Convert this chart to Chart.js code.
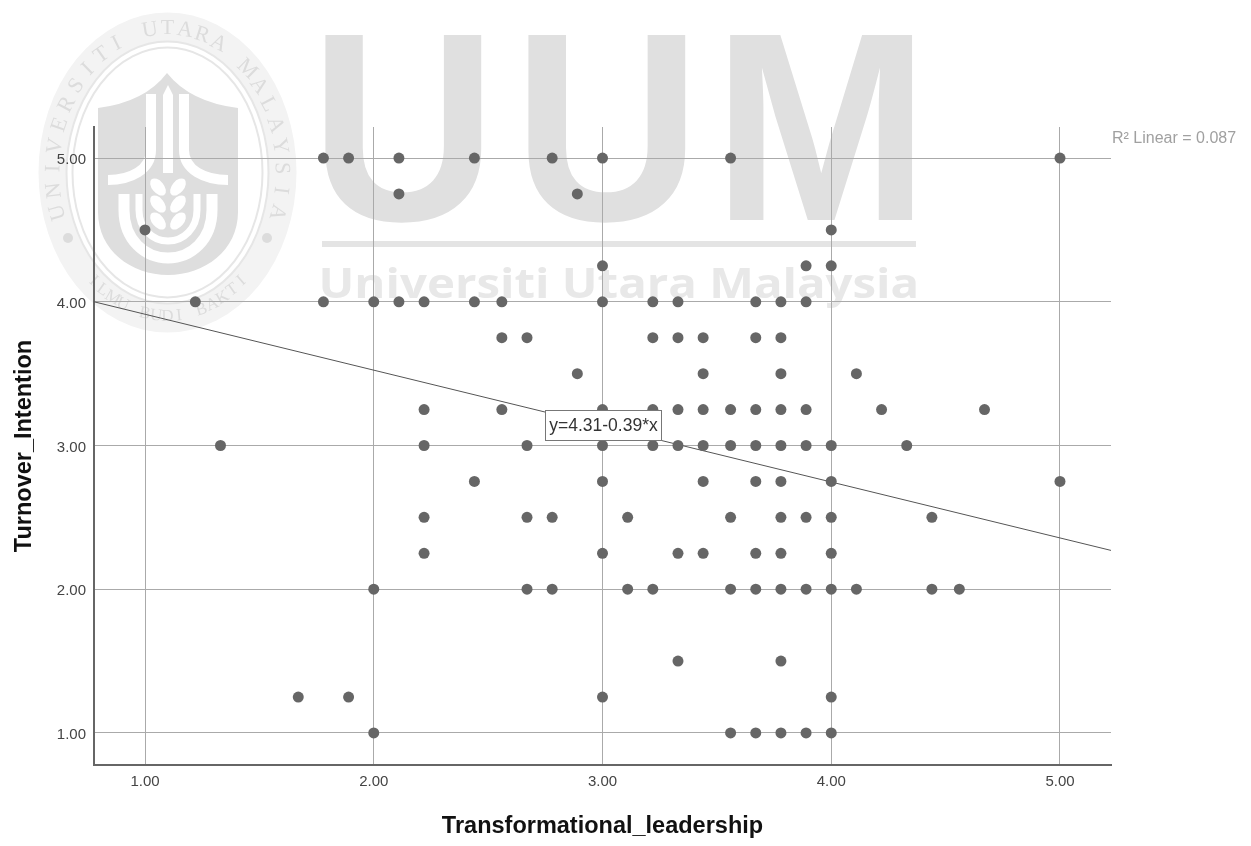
<!DOCTYPE html>
<html>
<head>
<meta charset="utf-8">
<title>Turnover_Intention vs Transformational_leadership</title>
<script src="https://cdn.jsdelivr.net/npm/chart.js@4"></script>
<style>
html, body { margin: 0; padding: 0; background: #fff; }
canvas { display: block; }
</style>
</head>
<body>
<canvas id="scatterChart" width="1251" height="846"></canvas>
<script>
const xTitle = "Transformational_leadership";
const yTitle = "Turnover_Intention";
const xTicks = [1, 2, 3, 4, 5];
const yTicks = [1, 2, 3, 4, 5];
const fitLabel = "y=4.31-0.39*x";
const r2Label = "R² Linear = 0.087";

// y value of each row of dots, and the x values found on that row
const turnoverLevels = [5, 4.75, 4.5, 4.25, 4, 3.75, 3.5, 3.25, 3, 2.75, 2.5, 2.25, 2, 1.5, 1.25, 1];
const leadershipByLevel = [
	[1.78, 1.89, 2.11, 2.44, 2.78, 3, 3.56, 5],
	[2.11, 2.89],
	[1, 4],
	[3, 3.89, 4],
	[1.22, 1.78, 2, 2.11, 2.22, 2.44, 2.56, 3, 3.22, 3.33, 3.67, 3.78, 3.89],
	[2.56, 2.67, 3.22, 3.33, 3.44, 3.67, 3.78],
	[2.89, 3.44, 3.78, 4.11],
	[2.22, 2.56, 3, 3.22, 3.33, 3.44, 3.56, 3.67, 3.78, 3.89, 4.22, 4.67],
	[1.33, 2.22, 2.67, 3, 3.22, 3.33, 3.44, 3.56, 3.67, 3.78, 3.89, 4, 4.33],
	[2.44, 3, 3.44, 3.67, 3.78, 4, 5],
	[2.22, 2.67, 2.78, 3.11, 3.56, 3.78, 3.89, 4, 4.44],
	[2.22, 3, 3.33, 3.44, 3.67, 3.78, 4],
	[2, 2.67, 2.78, 3.11, 3.22, 3.56, 3.67, 3.78, 3.89, 4, 4.11, 4.44, 4.56],
	[3.33, 3.78],
	[1.67, 1.89, 3, 4],
	[2, 3.56, 3.67, 3.78, 3.89, 4]
];

const lineX = [0.777, 5.223];
const lineY = [4.0, 2.27];

const points = [];
turnoverLevels.forEach((level, i) => {
	leadershipByLevel[i].forEach(x => points.push({ x: x, y: level }));
});

// text squeezed between two x positions, so the watermark lines up
function fitText(ctx, text, left, right, baseline, font, color) {
	ctx.save();
	ctx.font = font;
	ctx.fillStyle = color;
	ctx.textAlign = "left";
	ctx.textBaseline = "alphabetic";
	const m = ctx.measureText(text);
	const inkWidth = m.actualBoundingBoxLeft + m.actualBoundingBoxRight;
	const sx = (right - left) / inkWidth;
	ctx.translate(left, baseline);
	ctx.scale(sx, 1);
	ctx.fillText(text, m.actualBoundingBoxLeft, 0);
	ctx.restore();
}

function arcText(ctx, text, cx, cy, rx, ry, startAngle, endAngle, flip, font, color) {
	ctx.save();
	ctx.font = font;
	ctx.fillStyle = color;
	ctx.textAlign = "center";
	ctx.textBaseline = "middle";
	const chars = text.split("");
	chars.forEach((ch, i) => {
		const t = startAngle + (endAngle - startAngle) * i / (chars.length - 1);
		ctx.save();
		ctx.translate(cx + rx * Math.cos(t), cy + ry * Math.sin(t));
		ctx.rotate(t + (flip ? -Math.PI / 2 : Math.PI / 2));
		ctx.fillText(ch, 0, 0);
		ctx.restore();
	});
	ctx.restore();
}

function drawCrest(ctx) {
	const cx = 167.5, cy = 172.5;
	const band = "#e6e6e6";
	const shield = "#dedede";

	ctx.save();
	// outer band
	ctx.fillStyle = "#f3f3f3";
	ctx.beginPath();
	ctx.ellipse(cx, cy, 129, 160, 0, 0, Math.PI * 2);
	ctx.fill();
	ctx.fillStyle = "#fff";
	ctx.beginPath();
	ctx.ellipse(cx, cy, 101, 131, 0, 0, Math.PI * 2);
	ctx.fill();

	ctx.strokeStyle = band;
	ctx.lineWidth = 2;
	ctx.beginPath();
	ctx.ellipse(cx, cy, 101, 131, 0, 0, Math.PI * 2);
	ctx.stroke();
	ctx.beginPath();
	ctx.ellipse(cx, cy, 95, 125, 0, 0, Math.PI * 2);
	ctx.stroke();

	ctx.fillStyle = "#dcdcdc";
	ctx.beginPath();
	ctx.arc(68, 238, 5, 0, Math.PI * 2);
	ctx.fill();
	ctx.beginPath();
	ctx.arc(267, 238, 5, 0, Math.PI * 2);
	ctx.fill();

	// shield
	ctx.fillStyle = shield;
	ctx.beginPath();
	ctx.moveTo(98, 108);
	ctx.quadraticCurveTo(145, 102, 167, 73);
	ctx.quadraticCurveTo(190, 102, 238, 108);
	ctx.lineTo(238, 212);
	ctx.bezierCurveTo(238, 250, 205, 275, 168, 275);
	ctx.bezierCurveTo(131, 275, 98, 250, 98, 212);
	ctx.closePath();
	ctx.fill();

	// white figures on the shield
	ctx.strokeStyle = "#fff";
	ctx.fillStyle = "#fff";
	ctx.lineCap = "butt";
	ctx.beginPath();
	ctx.moveTo(168, 85);
	ctx.lineTo(173, 95);
	ctx.lineTo(173, 173);
	ctx.lineTo(163, 173);
	ctx.lineTo(163, 95);
	ctx.closePath();
	ctx.fill();

	ctx.lineWidth = 10;
	ctx.beginPath();
	ctx.moveTo(151, 94);
	ctx.lineTo(151, 150);
	ctx.bezierCurveTo(151, 170, 130, 180, 108, 180);
	ctx.stroke();
	ctx.beginPath();
	ctx.moveTo(184, 94);
	ctx.lineTo(184, 150);
	ctx.bezierCurveTo(184, 170, 205, 180, 228, 180);
	ctx.stroke();

	ctx.lineWidth = 11;
	ctx.beginPath();
	ctx.moveTo(124, 194);
	ctx.lineTo(124, 210);
	ctx.bezierCurveTo(124, 240, 145, 258, 168, 258);
	ctx.bezierCurveTo(191, 258, 212, 240, 212, 210);
	ctx.lineTo(212, 194);
	ctx.stroke();
	ctx.lineWidth = 7;
	ctx.beginPath();
	ctx.moveTo(139, 194);
	ctx.lineTo(139, 210);
	ctx.bezierCurveTo(139, 228, 152, 241, 168, 241);
	ctx.bezierCurveTo(184, 241, 197, 228, 197, 210);
	ctx.lineTo(197, 194);
	ctx.stroke();

	// wheat
	[187, 204, 221].forEach(y => {
		ctx.beginPath();
		ctx.ellipse(158, y, 6, 10, -0.7, 0, Math.PI * 2);
		ctx.fill();
		ctx.beginPath();
		ctx.ellipse(178, y, 6, 10, 0.7, 0, Math.PI * 2);
		ctx.fill();
	});
	ctx.restore();

	arcText(ctx, "UNIVERSITI UTARA MALAYSIA", cx, cy, 114, 144, -Math.PI / 2 - 1.85, -Math.PI / 2 + 1.85, false, "22px 'Liberation Serif'", "#dcdcdc");
	arcText(ctx, "ILMU BUDI BAKTI", cx, cy, 112, 144, Math.PI / 2 + 0.72, Math.PI / 2 - 0.72, true, "17px 'Liberation Serif'", "#dcdcdc");
}

const watermarkPlugin = {
	id: "watermark",
	beforeDraw(chart) {
		const ctx = chart.ctx;
		const grey = "#e0e0e0";
		drawCrest(ctx);
		const bigFont = "bold 269px 'Liberation Sans'";
		fitText(ctx, "U", 322, 484, 220, bigFont, grey);
		fitText(ctx, "U", 525, 688, 220, bigFont, grey);
		fitText(ctx, "M", 729, 916, 220, bigFont, grey);
		ctx.fillStyle = "#e4e4e4";
		ctx.fillRect(322, 241, 594, 6);
		fitText(ctx, "Universiti Utara Malaysia", 322, 916, 298, "bold 41px 'Open Sans'", "#e8e8e8");
	}
};

const labelPlugin = {
	id: "labels",
	afterDatasetsDraw(chart) {
		const ctx = chart.ctx;
		const cx = chart.scales.x.getPixelForValue(3.0);
		const cy = chart.scales.y.getPixelForValue(3.135);
		ctx.save();
		ctx.fillStyle = "#fff";
		ctx.strokeStyle = "#777";
		ctx.lineWidth = 1;
		ctx.fillRect(545.5, Math.round(cy) - 15.5, 116, 30);
		ctx.strokeRect(545.5, Math.round(cy) - 15.5, 116, 30);
		ctx.fillStyle = "#333";
		ctx.font = "17.5px 'Liberation Sans'";
		ctx.textAlign = "center";
		ctx.textBaseline = "middle";
		ctx.fillText(fitLabel, cx + 1, cy);

		ctx.fillStyle = "#a0a0a0";
		ctx.font = "16px 'Liberation Sans'";
		ctx.textAlign = "left";
		ctx.fillText(r2Label, chart.chartArea.right + 1, 139);
		ctx.restore();
	}
};

new Chart(document.querySelector("#scatterChart"), {
	type: "scatter",
	data: {
		datasets: [{
			label: "Turnover_Intention",
			data: points,
			backgroundColor: "#666",
			borderWidth: 0,
			pointRadius: 5.5
		}, {
			label: "Linear",
			data: lineX.map((x, i) => ({ x: x, y: lineY[i] })),
			showLine: true,
			borderColor: "#555",
			borderWidth: 1,
			pointRadius: 0
		}]
	},
	options: {
		responsive: false,
		animation: false,
		layout: { padding: { top: 127, right: 140, bottom: 0, left: 0 } },
		plugins: {
			legend: { display: false },
			tooltip: { enabled: false }
		},
		scales: {
			x: {
				min: 0.777,
				max: 5.223,
				afterBuildTicks: scale => { scale.ticks = xTicks.map(v => ({ value: v })); },
				afterFit: scale => { scale.height = 81; },
				grid: { color: "#aaa", drawTicks: false },
				border: { color: "#666", width: 2 },
				ticks: {
					padding: 8,
					color: "#444",
					maxRotation: 0,
					font: { family: "'Liberation Sans'", size: 15 },
					callback: v => v.toFixed(2)
				},
				title: {
					display: true,
					text: xTitle,
					color: "#111",
					font: { family: "'Liberation Sans'", size: 23.5, weight: "bold" },
					padding: { top: 0, bottom: 5 }
				}
			},
			y: {
				min: 0.777,
				max: 5.216,
				afterBuildTicks: scale => { scale.ticks = yTicks.map(v => ({ value: v })); },
				afterFit: scale => { scale.width = 94; },
				grid: { color: "#aaa", drawTicks: false },
				border: { color: "#666", width: 2 },
				ticks: {
					padding: 8,
					color: "#444",
					labelOffset: 2,
					font: { family: "'Liberation Sans'", size: 15 },
					callback: v => v.toFixed(2)
				},
				title: {
					display: true,
					text: yTitle,
					color: "#111",
					font: { family: "'Liberation Sans'", size: 23.5, weight: "bold" },
					padding: { top: 10, bottom: 0 }
				}
			}
		}
	},
	plugins: [watermarkPlugin, labelPlugin]
});
</script>
</body>
</html>
